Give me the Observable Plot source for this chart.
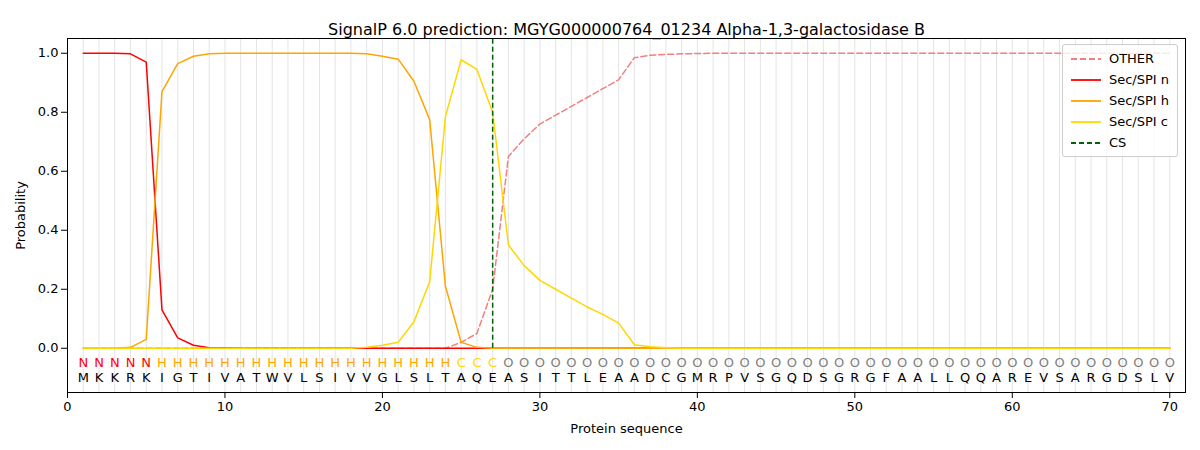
<!DOCTYPE html>
<html><head><meta charset="utf-8">
<script src="https://cdn.jsdelivr.net/npm/d3@7"></script>
<script src="https://cdn.jsdelivr.net/npm/@observablehq/plot@0.6"></script>
<style>body{margin:0;font-family:"DejaVu Sans",sans-serif;} #wrap{position:relative;width:1200px;height:450px;}
#legend{position:absolute;right:22px;top:44px;background:rgba(255,255,255,0.8);border:1px solid #ccc;border-radius:3px;padding:3px 8px;font-size:13px;line-height:21px}
#legend div{display:flex;align-items:center}#legend svg{margin-right:8px}</style>
</head><body><div id="wrap"><div id="legend"></div></div>
<script>
const sequence = "MKKRKIGTIVATWVLSIVVGLSLTAQEASITTLEAADCGMRPVSGQDSGRGFAALLQQAREVSARGDSLV".split("");
const labels = "NNNNNHHHHHHHHHHHHHHHHHHHCCCOOOOOOOOOOOOOOOOOOOOOOOOOOOOOOOOOOOOOOOOOOO".split("");
const other = [0,0,0,0,0,0,0,0,0,0,0,0,0,0,0,0,0,0,0,0,0,0,0,0,0.02,0.05,0.2,0.65,0.71,0.76,0.79,0.82,0.85,0.88,0.91,0.985,0.993,0.996,0.998,0.999,1,1,1,1,1,1,1,1,1,1,1,1,1,1,1,1,1,1,1,1,1,1,1,1,1,1,1,1,1,1];
const secN = [1,1,1,0.998,0.97,0.13,0.035,0.01,0.002,0.001,0,0,0,0,0,0,0,0,0,0,0,0,0,0,0,0,0,0,0,0,0,0,0,0,0,0,0,0,0,0,0,0,0,0,0,0,0,0,0,0,0,0,0,0,0,0,0,0,0,0,0,0,0,0,0,0,0,0,0,0];
const secH = [0,0,0,0.003,0.03,0.87,0.965,0.99,0.998,1,1,1,1,1,1,1,1,1,0.998,0.99,0.98,0.905,0.775,0.21,0.02,0.003,0,0,0,0,0,0,0,0,0,0,0,0,0,0,0,0,0,0,0,0,0,0,0,0,0,0,0,0,0,0,0,0,0,0,0,0,0,0,0,0,0,0,0,0];
const secC = [0,0,0,0,0,0,0,0,0,0,0,0,0,0,0,0,0,0,0.003,0.01,0.02,0.09,0.225,0.785,0.978,0.945,0.8,0.35,0.28,0.23,0.2,0.17,0.14,0.115,0.085,0.012,0.005,0.002,0,0,0,0,0,0,0,0,0,0,0,0,0,0,0,0,0,0,0,0,0,0,0,0,0,0,0,0,0,0,0,0];
const cs = 27;
const series = [
 {name:"OTHER", vals:other, color:"#f08080", dash:"6,3"},
 {name:"Sec/SPI n", vals:secN, color:"red", dash:null},
 {name:"Sec/SPI h", vals:secH, color:"orange", dash:null},
 {name:"Sec/SPI c", vals:secC, color:"gold", dash:null}];
const labColor = {N:"red",H:"orange",C:"gold",O:"gray"};
const pos = sequence.map((s,i)=>i+1);
const seqData = sequence.map((s,i)=>({x:i+1,s,l:labels[i]}));
const marks = [
 Plot.ruleX(pos,{stroke:"#e4e4e4",strokeWidth:1}),
 ...series.map(s=>Plot.line(s.vals.map((v,i)=>({x:i+1,y:v})),{x:"x",y:"y",stroke:s.color,strokeWidth:1.5,strokeDasharray:s.dash})),
 Plot.ruleX([cs],{stroke:"darkgreen",strokeDasharray:"5,3",strokeWidth:1.5,y1:0,y2:1.05}),
 Plot.text(seqData,{x:"x",y:()=>-0.05,text:"l",fill:d=>labColor[d.l],fontSize:13}),
 Plot.text(seqData,{x:"x",y:()=>-0.1,text:"s",fill:"black",fontSize:13}),
 Plot.frame({stroke:"black"}),
 Plot.text(["SignalP 6.0 prediction: MGYG000000764_01234 Alpha-1,3-galactosidase B"],{frameAnchor:"top",dy:-15,fontSize:16,fill:"black"})
];
const chart = Plot.plot({width:1200,height:450,marginLeft:67,marginRight:15,marginTop:38,marginBottom:58,
 style:{fontFamily:"DejaVu Sans",fontSize:"13px",color:"black"},
 x:{domain:[0,71],ticks:[0,10,20,30,40,50,60,70],label:"Protein sequence",labelAnchor:"center",labelArrow:"none",labelOffset:40},
 y:{domain:[-0.15,1.05],ticks:[0,0.2,0.4,0.6,0.8,1.0],tickFormat:d3.format(".1f"),label:"Probability",labelAnchor:"center",labelArrow:"none",labelOffset:52},
 marks});
document.getElementById("wrap").prepend(chart);
const lg=document.getElementById("legend");
[...series.map(s=>({n:s.name,c:s.color,d:s.dash})),{n:"CS",c:"darkgreen",d:"5,3"}].forEach(s=>{
 lg.insertAdjacentHTML("beforeend",`<div><svg width="30" height="10"><line x1="0" x2="30" y1="5" y2="5" stroke="${s.c}" stroke-width="1.8" ${s.d?`stroke-dasharray="${s.d}"`:""}/></svg>${s.n}</div>`);
});
</script></body></html>
